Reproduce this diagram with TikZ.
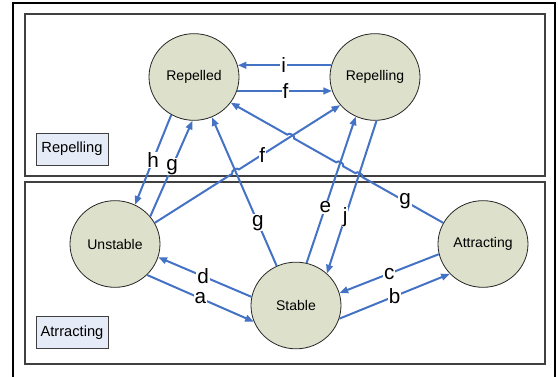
\documentclass[tikz,border=0pt]{standalone}
\usepackage{fontspec}
\setmainfont{Liberation Sans}
\usetikzlibrary{arrows.meta, shapes.geometric, calc, intersections}
\definecolor{flowblue}{HTML}{4472C4}
\definecolor{stateolive}{HTML}{DDE0CB}
\definecolor{tagblue}{HTML}{E6ECF7}
\tikzset{
  >={Triangle[length=6.5pt, width=5pt]},
  statenode/.style={ellipse, draw=black!85, line width=0.6pt, fill=stateolive,
                    minimum width=67.5pt, minimum height=65pt, inner sep=0pt,
                    font=\fontsize{10.5}{12}\selectfont},
  tag/.style={rectangle, draw=black!75, line width=0.7pt, fill=tagblue,
              minimum width=54pt, minimum height=24pt, inner sep=0pt,
              font=\fontsize{11}{12}\selectfont},
  panel/.style={draw=black!75, line width=0.9pt},
  flow/.style={->, line width=1.5pt, draw=flowblue},
  lbl/.style={fill=white, inner sep=0.6pt, font=\fontsize{15.5}{16}\selectfont},
}

\begin{document}
\begin{tikzpicture}[x=0.75pt, y=-0.75pt]
  \useasboundingbox (0,0) rectangle (558,377);
  % frame and the two regions
  \draw[black, line width=0.8pt] (13,377) -- (13,3) -- (555,3) -- (555,377);
  \draw[panel] (25,14) rectangle (545,176);
  \draw[panel] (25,182) rectangle (545,364);
  \node[tag] (tagrep) at (72,149) {Repelling};
  \node[tag] (tagatt) at (72,332.5) {Atrracting};

  % states
  \node[statenode] (repelled)   at (194,77)    {Repelled};
  \node[statenode] (repelling)  at (375,77)    {Repelling};
  \node[statenode] (unstable)   at (115,244)   {Unstable};
  \node[statenode] (stable)     at (296,305.5) {Stable};
  \node[statenode] (attracting) at (483,244)   {Attracting};

  % crossings that get a line jump
  \path[name path=pe] (stable.76) -- (repelling.244);
  \path[name path=pj] (repelling.272) -- (stable.46);
  \path[name path=pf] (unstable.28) -- (repelling.219);
  \path[name path=pgs] (stable.116) -- (repelled.294);
  \path[name path=pga] (attracting.152) -- (repelled.325);
  \path[name intersections={of=pga and pj, by=xj}];
  \path[name intersections={of=pga and pe, by=xe}];
  \path[name intersections={of=pga and pf, by=xf}];
  \path[name intersections={of=pf and pgs, by=xg}];

  % transitions
  \draw[flow] (repelling.165) -- node[lbl, pos=0.51]{i} (repelled.15);
  \draw[flow] (repelled.-18) -- node[lbl, pos=0.51]{f} (repelling.198);
  \draw[flow] (repelled.239) -- node[lbl, pos=0.5]{h} (unstable.63);
  \draw[flow] (unstable.38) -- node[lbl, pos=0.52]{g} (repelled.268);
  \draw[flow] (stable.116) -- node[lbl, pos=0.29]{g} (repelled.294);
  \draw[flow] (stable.76) -- node[lbl, pos=0.38]{e} (repelling.244);
  \draw[flow] (repelling.272) -- node[lbl, pos=0.63]{j} (stable.46);
  \draw[flow] (unstable.28) -- ($(xg)!3pt!(unstable.28)$)
    to[bend left=90] ($(xg)!3pt!(repelling.219)$) -- (repelling.219);
  \path (unstable.28) -- node[lbl, pos=0.58]{f} (repelling.219);
  \draw[flow] (attracting.152) -- ($(xj)!3pt!(attracting.152)$)
    to[bend right=90] ($(xj)!3pt!(repelled.325)$)
    -- ($(xe)!3pt!(attracting.152)$)
    to[bend right=90] ($(xe)!3pt!(repelled.325)$)
    -- ($(xf)!3pt!(attracting.152)$)
    to[bend right=90] ($(xf)!3pt!(repelled.325)$) -- (repelled.325);
  \path (attracting.152) -- node[lbl, pos=0.18]{g} (repelled.325);
  \draw[flow] (stable.169) -- node[lbl, pos=0.52]{d} (unstable.343);
  \draw[flow] (unstable.316) -- node[lbl, pos=0.5]{a} (stable.201);
  \draw[flow] (attracting.193) -- node[lbl, pos=0.5]{c} (stable.16);
  \draw[flow] (stable.343) -- node[lbl, pos=0.5]{b} (attracting.222);
\end{tikzpicture}
\end{document}
